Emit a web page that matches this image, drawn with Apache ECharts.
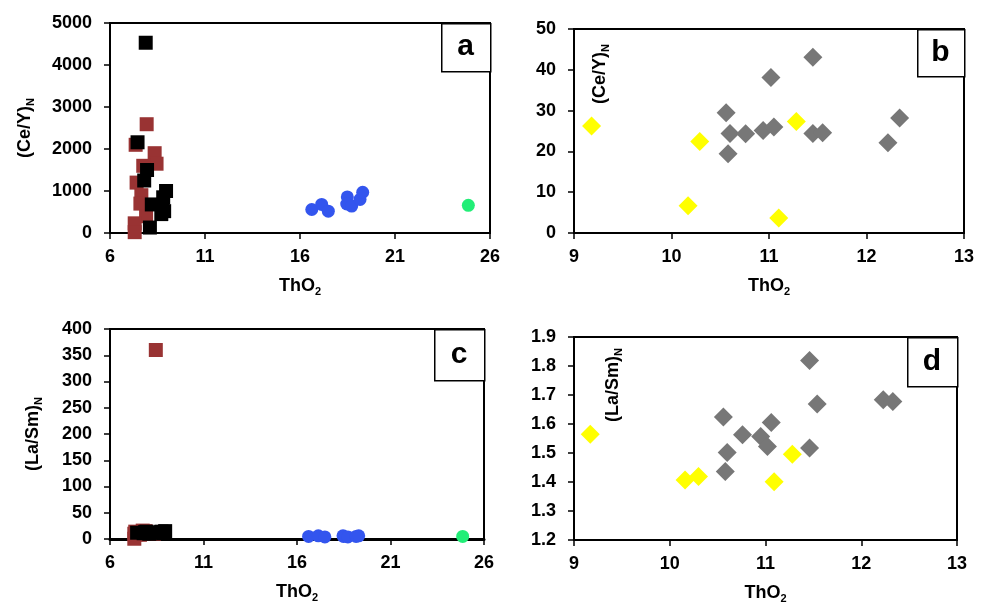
<!DOCTYPE html>
<html>
<head>
<meta charset="utf-8">
<script src="https://cdn.jsdelivr.net/npm/echarts@6/dist/echarts.min.js"></script>
<style>
  html, body { margin: 0; padding: 0; background: #fff; }
  #chart { width: 987px; height: 605px; }
</style>
</head>
<body>
<div id="chart"></div>
<script>
// panel a / c : ThO2 vs (Ce/Y)N and (La/Sm)N, four groups
var brownThO2 = [7.93, 7.35, 8.35, 8.45, 7.75, 7.4, 7.65, 7.6, 7.9, 7.3, 7.3];
var brownCeY  = [2590, 2100, 1900, 1650, 1600, 1200, 900, 700, 400, 230, 20];
var brownLaSm = [12, 14, 10, 360, 16, 9, 12, 8, 15, 10, 0.5];

var blackThO2 = [7.88, 7.45, 7.95, 7.8, 8.95, 8.8, 8.2, 8.75, 8.85, 8.7, 8.1];
var blackCeY  = [4530, 2160, 1500, 1250, 1000, 850, 680, 650, 520, 450, 130];
var blackLaSm = [13, 12, 14, 11, 15, 13, 12, 14, 11, 13, 10];

var blueThO2 = [16.62, 17.14, 17.49, 18.49, 18.46, 18.72, 19.16, 19.3];
var blueCeY  = [560, 680, 520, 860, 690, 640, 800, 970];
var blueLaSm = [5, 6, 4, 5, 6, 4, 5, 6];

var greenThO2 = [24.86];
var greenCeY  = [660];
var greenLaSm = [5];

// panel b / d : grey and yellow groups
var greyThO2 = [10.56, 10.6, 10.58, 10.76, 10.94, 11.05, 11.02, 11.45, 11.45, 11.55, 12.22, 12.34];
var greyCeY  = [29.5, 24.4, 19.4, 24.3, 25.1, 26.0, 38.1, 43.1, 24.4, 24.6, 22.1, 28.2];
var greyDThO2 = [11.46, 11.54, 12.23, 12.33, 10.56, 11.06, 10.76, 10.95, 11.02, 10.6, 11.46, 10.58];
var greyLaSm  = [1.819, 1.669, 1.684, 1.678, 1.624, 1.605, 1.563, 1.557, 1.522, 1.502, 1.517, 1.436];

var yellowThO2 = [9.18, 10.29, 10.17, 11.28, 11.1];
var yellowCeY  = [26.2, 22.4, 6.7, 27.3, 3.7];
var yellowDThO2 = [9.17, 10.16, 10.3, 11.28, 11.09];
var yellowLaSm  = [1.565, 1.407, 1.419, 1.496, 1.401];

var panelLabels = ['a', 'b', 'c', 'd'];

var FONT = "'Liberation Sans', Arial, sans-serif";

function pairs(xs, ys) {
    return xs.map(function (x, i) { return [x, ys[i]]; });
}

var richTitle = {
    m: { fontFamily: FONT, fontWeight: 'bold', fontSize: 18, color: '#000', lineHeight: 22 },
    s: { fontFamily: FONT, fontWeight: 'bold', fontSize: 11, color: '#000', lineHeight: 22, verticalAlign: 'bottom', padding: [8, 0, 0, 0] }
};

function plain(v) {
    return String(v);
}

function xAx(idx, min, max, interval, lineW) {
    return {
        gridIndex: idx, type: 'value', min: min, max: max, interval: interval,
        name: '{m|ThO}{s|2}', nameLocation: 'middle', nameGap: 42,
        nameTextStyle: { rich: richTitle },
        axisLine: { onZero: false, lineStyle: { color: '#000', width: lineW || 2 } },
        axisTick: { inside: false, length: 6, lineStyle: { color: '#000', width: 1.5 } },
        axisLabel: { margin: 15, color: '#000', fontFamily: FONT, fontWeight: 'bold', fontSize: 18, formatter: plain },
        splitLine: { show: false }
    };
}

function yAx(idx, min, max, interval, name, gap, fmt) {
    var ax = {
        gridIndex: idx, type: 'value', min: min, max: max, interval: interval,
        axisLine: { onZero: false, lineStyle: { color: '#000', width: 2 } },
        axisTick: { inside: false, length: 6, lineStyle: { color: '#000', width: 1.5 } },
        axisLabel: { margin: 18, color: '#000', fontFamily: FONT, fontWeight: 'bold', fontSize: 18, formatter: fmt || plain },
        splitLine: { show: false }
    };
    if (name) {
        ax.name = name;
        ax.nameLocation = 'middle';
        ax.nameGap = gap;
        ax.nameRotate = 90;
        ax.nameTextStyle = { rich: richTitle };
    }
    return ax;
}

function sc(name, idx, data, symbol, size, color) {
    return {
        name: name, type: 'scatter', xAxisIndex: idx, yAxisIndex: idx,
        symbol: symbol, symbolSize: size, data: data, clip: false,
        itemStyle: { color: color, opacity: 1 }
    };
}

var gridPos = [
    { left: 110, top: 23, width: 380, height: 210 },
    { left: 574, top: 29, width: 390, height: 204 },
    { left: 110, top: 329, width: 374, height: 210 },
    { left: 574, top: 337, width: 383, height: 203 }
];

var boxPos = [
    [441, 23, 49, 48],
    [917, 29, 47, 47],
    [434, 329, 50, 51],
    [907, 337, 50, 49]
];

var graphics = [];
boxPos.forEach(function (b, i) {
    graphics.push({
        type: 'rect', left: b[0], top: b[1], z: 100,
        shape: { width: b[2], height: b[3] },
        style: { fill: '#fff', stroke: '#000', lineWidth: 1.5 }
    });
    graphics.push({
        type: 'text', z: 101,
        x: b[0] + b[2] / 2, y: b[1] + b[3] / 2,
        style: { text: panelLabels[i], fill: '#000', font: 'bold 30px ' + FONT, align: 'center', verticalAlign: 'middle' }
    });
});
// y titles of b and d sit inside the plot
graphics.push({
    type: 'text', z: 101, x: 600, y: 74, rotation: Math.PI / 2,
    style: { text: '{m|(Ce/Y)}{s|N}', rich: richTitle, align: 'center', verticalAlign: 'middle' }
});
graphics.push({
    type: 'text', z: 101, x: 613, y: 385, rotation: Math.PI / 2,
    style: { text: '{m|(La/Sm)}{s|N}', rich: richTitle, align: 'center', verticalAlign: 'middle' }
});

var chart = echarts.init(document.getElementById('chart'), null, { renderer: 'canvas' });
var option = {
    backgroundColor: '#fff',
    animation: false,
    grid: gridPos.map(function (g) {
        return { left: g.left, top: g.top, width: g.width, height: g.height, show: true, borderColor: '#000', borderWidth: 2, backgroundColor: 'transparent' };
    }),
    xAxis: [
        xAx(0, 6, 26, 5),
        xAx(1, 9, 13, 1),
        xAx(2, 6, 26, 5, 3),
        xAx(3, 9, 13, 1)
    ],
    yAxis: [
        yAx(0, 0, 5000, 1000, '{m|(Ce/Y)}{s|N}', 74),
        yAx(1, 0, 50, 10),
        yAx(2, 0, 400, 50, '{m|(La/Sm)}{s|N}', 66),
        yAx(3, 1.2, 1.9, 0.1, null, 0, function (v) { return v.toFixed(1); })
    ],
    series: [
        sc('brown a', 0, pairs(brownThO2, brownCeY), 'rect', 14, '#993333'),
        sc('black a', 0, pairs(blackThO2, blackCeY), 'rect', 14, '#000000'),
        sc('blue a', 0, pairs(blueThO2, blueCeY), 'circle', 13, '#3355ee'),
        sc('green a', 0, pairs(greenThO2, greenCeY), 'circle', 13, '#22ee77'),
        sc('grey b', 1, pairs(greyThO2, greyCeY), 'diamond', 19, '#777777'),
        sc('yellow b', 1, pairs(yellowThO2, yellowCeY), 'diamond', 19, '#ffff00'),
        sc('brown c', 2, pairs(brownThO2, brownLaSm), 'rect', 14, '#993333'),
        sc('black c', 2, pairs(blackThO2, blackLaSm), 'rect', 14, '#000000'),
        sc('blue c', 2, pairs(blueThO2, blueLaSm), 'circle', 13, '#3355ee'),
        sc('green c', 2, pairs(greenThO2, greenLaSm), 'circle', 13, '#22ee77'),
        sc('grey d', 3, pairs(greyDThO2, greyLaSm), 'diamond', 19, '#777777'),
        sc('yellow d', 3, pairs(yellowDThO2, yellowLaSm), 'diamond', 19, '#ffff00')
    ],
    graphic: graphics
};
chart.setOption(option);
window.addEventListener('resize', function () {
    chart.resize();
});
</script>
</body>
</html>
